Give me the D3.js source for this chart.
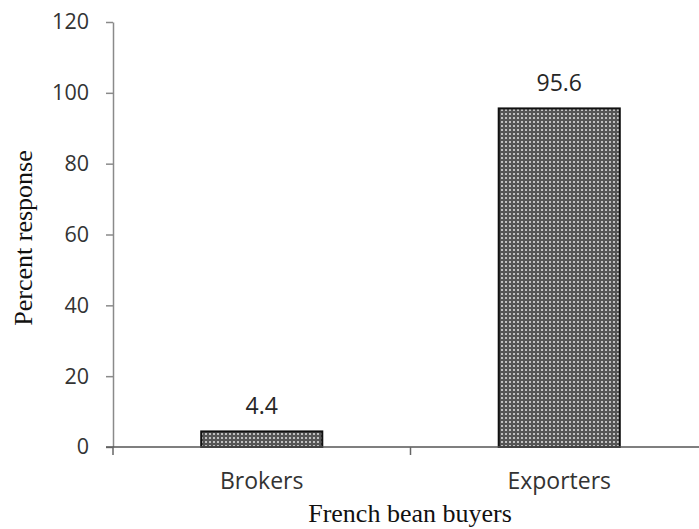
<!DOCTYPE html>
<html><head><meta charset="utf-8">
<script src="https://cdn.jsdelivr.net/npm/d3@7"></script>
<style>body{margin:0;background:#fff}svg{display:block}</style>
</head><body>
<script>
const categories = ["Brokers", "Exporters"];
const values = [4.4, 95.6];
const yTicks = [0, 20, 40, 60, 80, 100, 120];
const xTitle = "French bean buyers";
const yTitle = "Percent response";

const W = 699, H = 529;
const svg = d3.select("body").append("svg").attr("width", W).attr("height", H);

const defs = svg.append("defs");
const pat = defs.append("pattern").attr("id", "chk").attr("patternUnits", "userSpaceOnUse")
  .attr("width", 4).attr("height", 4);
pat.append("rect").attr("width", 4).attr("height", 4).attr("fill", "#555");
pat.append("rect").attr("x", 1).attr("y", 1).attr("width", 2).attr("height", 2).attr("fill", "#c0c0c0");

const x = d3.scaleBand().domain(categories).range([113, 708]).paddingInner(0.593).paddingOuter(0.2965);
const y = d3.scaleLinear().domain([0, 120]).range([447, 22]);

// y axis
const ya = svg.append("g").attr("transform", "translate(113,0)")
  .call(d3.axisLeft(y).tickValues(yTicks).tickSize(7).tickPadding(17).tickSizeOuter(0));
ya.select(".domain").attr("stroke", "#8a8a8a").attr("stroke-width", 1.5);
ya.selectAll(".tick line").attr("stroke", "#8a8a8a").attr("stroke-width", 1.5);
ya.selectAll(".tick text").attr("font-family", "Open Sans").attr("font-size", 21.5).attr("fill", "#333");

// bars
svg.append("g").selectAll("rect").data(values).join("rect")
  .attr("x", (d, i) => x(categories[i]))
  .attr("y", d => y(d))
  .attr("width", x.bandwidth())
  .attr("height", d => y(0) - y(d))
  .attr("fill", "url(#chk)")
  .attr("stroke", "#111").attr("stroke-width", 2);

// x axis
const xa = svg.append("g").attr("transform", "translate(0,447)");
xa.append("line").attr("x1", 106).attr("x2", W).attr("y1", 0).attr("y2", 0)
  .attr("stroke", "#555").attr("stroke-width", 1.5);
const bounds = [113, 113 + x.step(), 113 + 2 * x.step()];
xa.selectAll("line.tk").data(bounds).join("line").attr("class", "tk")
  .attr("x1", d => d).attr("x2", d => d).attr("y1", 0).attr("y2", 8)
  .attr("stroke", "#666").attr("stroke-width", 1.5);
xa.selectAll("text").data(categories).join("text")
  .attr("x", d => x(d) + x.bandwidth() / 2).attr("y", 42)
  .attr("text-anchor", "middle").attr("font-family", "Open Sans").attr("font-size", 23)
  .attr("fill", "#333").text(d => d);

// value labels
svg.append("g").selectAll("text").data(values).join("text")
  .attr("x", (d, i) => x(categories[i]) + x.bandwidth() / 2)
  .attr("y", d => y(d) - 17)
  .attr("text-anchor", "middle").attr("font-family", "Open Sans").attr("font-size", 23)
  .attr("fill", "#262626").text(d => d.toFixed(1));

// titles
svg.append("text").attr("x", 410).attr("y", 522).attr("text-anchor", "middle")
  .attr("font-family", "Liberation Serif").attr("font-size", 26).attr("fill", "#111").text(xTitle);
svg.append("text").attr("transform", "translate(32,238) rotate(-90)").attr("text-anchor", "middle")
  .attr("font-family", "Liberation Serif").attr("font-size", 26).attr("fill", "#111").text(yTitle);
</script>
</body></html>
